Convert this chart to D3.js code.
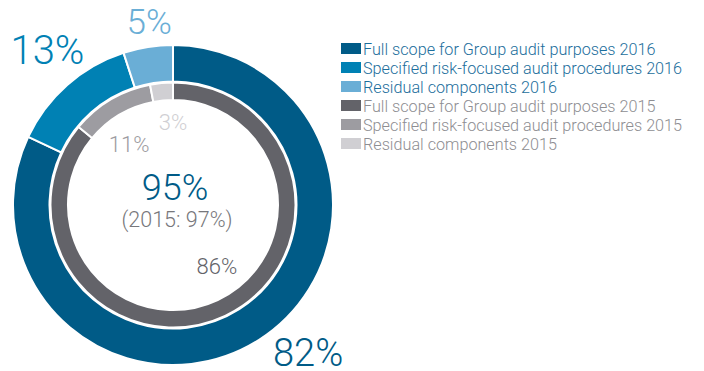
<!DOCTYPE html>
<html>
<head>
<meta charset="utf-8">
<script src="https://cdn.jsdelivr.net/npm/d3@7"></script>
<style>
  html, body { margin: 0; padding: 0; background: #fff; }
  svg text { font-family: Roboto, "Liberation Sans", sans-serif; font-weight: 300; }
</style>
</head>
<body>
<svg id="chart" width="704" height="371"></svg>
<script>
// Audit coverage split, outer ring 2016, inner ring 2015
const categories = [
  "Full scope for Group audit purposes",
  "Specified risk-focused audit procedures",
  "Residual components"
];
const values2016 = [82, 13, 5];
const values2015 = [86, 11, 3];
const colors2016 = ["#005b87", "#0081b4", "#6aaed6"];
const colors2015 = ["#636369", "#9d9ca1", "#d0cfd3"];
const coverage2016 = "95%";
const coverageNote = "(2015: 97%)";

const svg = d3.select("#chart");
const cx = 173, cy = 205;

const pie = d3.pie().sort(null).value(d => d);
const outerArc = d3.arc().innerRadius(123.5).outerRadius(160);
const innerArc = d3.arc().innerRadius(105).outerRadius(122.5);

const g = svg.append("g").attr("transform", `translate(${cx},${cy})`);

g.append("g").selectAll("path")
  .data(pie(values2016))
  .join("path")
  .attr("d", outerArc)
  .attr("fill", (d, i) => colors2016[i])
  .attr("stroke", "#fff")
  .attr("stroke-width", 2);

g.append("g").selectAll("path")
  .data(pie(values2015))
  .join("path")
  .attr("d", innerArc)
  .attr("fill", (d, i) => colors2015[i])
  .attr("stroke", "#fff")
  .attr("stroke-width", 2);

// Percentage labels, placed by polar angle (degrees clockwise from top) and radius;
// the anchor point is the middle of the digits' cap height
const outerLabelPlace = [{a: 137.5, r: 200, size: 38}, {a: 321.1, r: 200, size: 40}, {a: 352.6, r: 185, size: 35}];
const innerLabelPlace = [{a: 144.2, r: 75, size: 22}, {a: 324.2, r: 75, size: 22}, {a: 0, r: 83, size: 22}];

function polar(p) {
  const t = p.a * Math.PI / 180;
  return [p.r * Math.sin(t), -p.r * Math.cos(t)];
}

function drawLabels(vals, places, cols) {
  g.append("g").selectAll("text")
    .data(vals)
    .join("text")
    .attr("x", (d, i) => polar(places[i])[0])
    .attr("y", (d, i) => polar(places[i])[1])
    .attr("dy", "0.355em")
    .attr("text-anchor", "middle")
    .attr("font-size", (d, i) => places[i].size)
    .attr("fill", (d, i) => cols[i])
    .text(d => d + "%");
}
drawLabels(values2016, outerLabelPlace, colors2016);
drawLabels(values2015, innerLabelPlace, colors2015);

g.append("text")
  .attr("x", 2).attr("y", -5)
  .attr("text-anchor", "middle")
  .attr("font-size", 36)
  .attr("fill", colors2016[0])
  .text(coverage2016);

g.append("text")
  .attr("x", 4).attr("y", 22)
  .attr("text-anchor", "middle")
  .attr("font-size", 21.5)
  .attr("fill", "#77777b")
  .text(coverageNote);

// Legend
const legendItems = [
  ...categories.map((c, i) => ({label: c + " 2016", color: colors2016[i], text: "#1c6e9c"})),
  ...categories.map((c, i) => ({label: c + " 2015", color: colors2015[i], text: "#8e8e92"}))
];
const legend = svg.append("g").attr("transform", "translate(341,49)");
const rows = legend.selectAll("g")
  .data(legendItems)
  .join("g")
  .attr("transform", (d, i) => `translate(0,${i * 19})`);
rows.append("rect")
  .attr("x", 0).attr("y", -6)
  .attr("width", 20).attr("height", 11)
  .attr("fill", d => d.color);
rows.append("text")
  .attr("x", 22).attr("y", 0)
  .attr("dominant-baseline", "central")
  .attr("font-size", 16.2)
  .attr("fill", d => d.text)
  .text(d => d.label);
</script>
</body>
</html>
